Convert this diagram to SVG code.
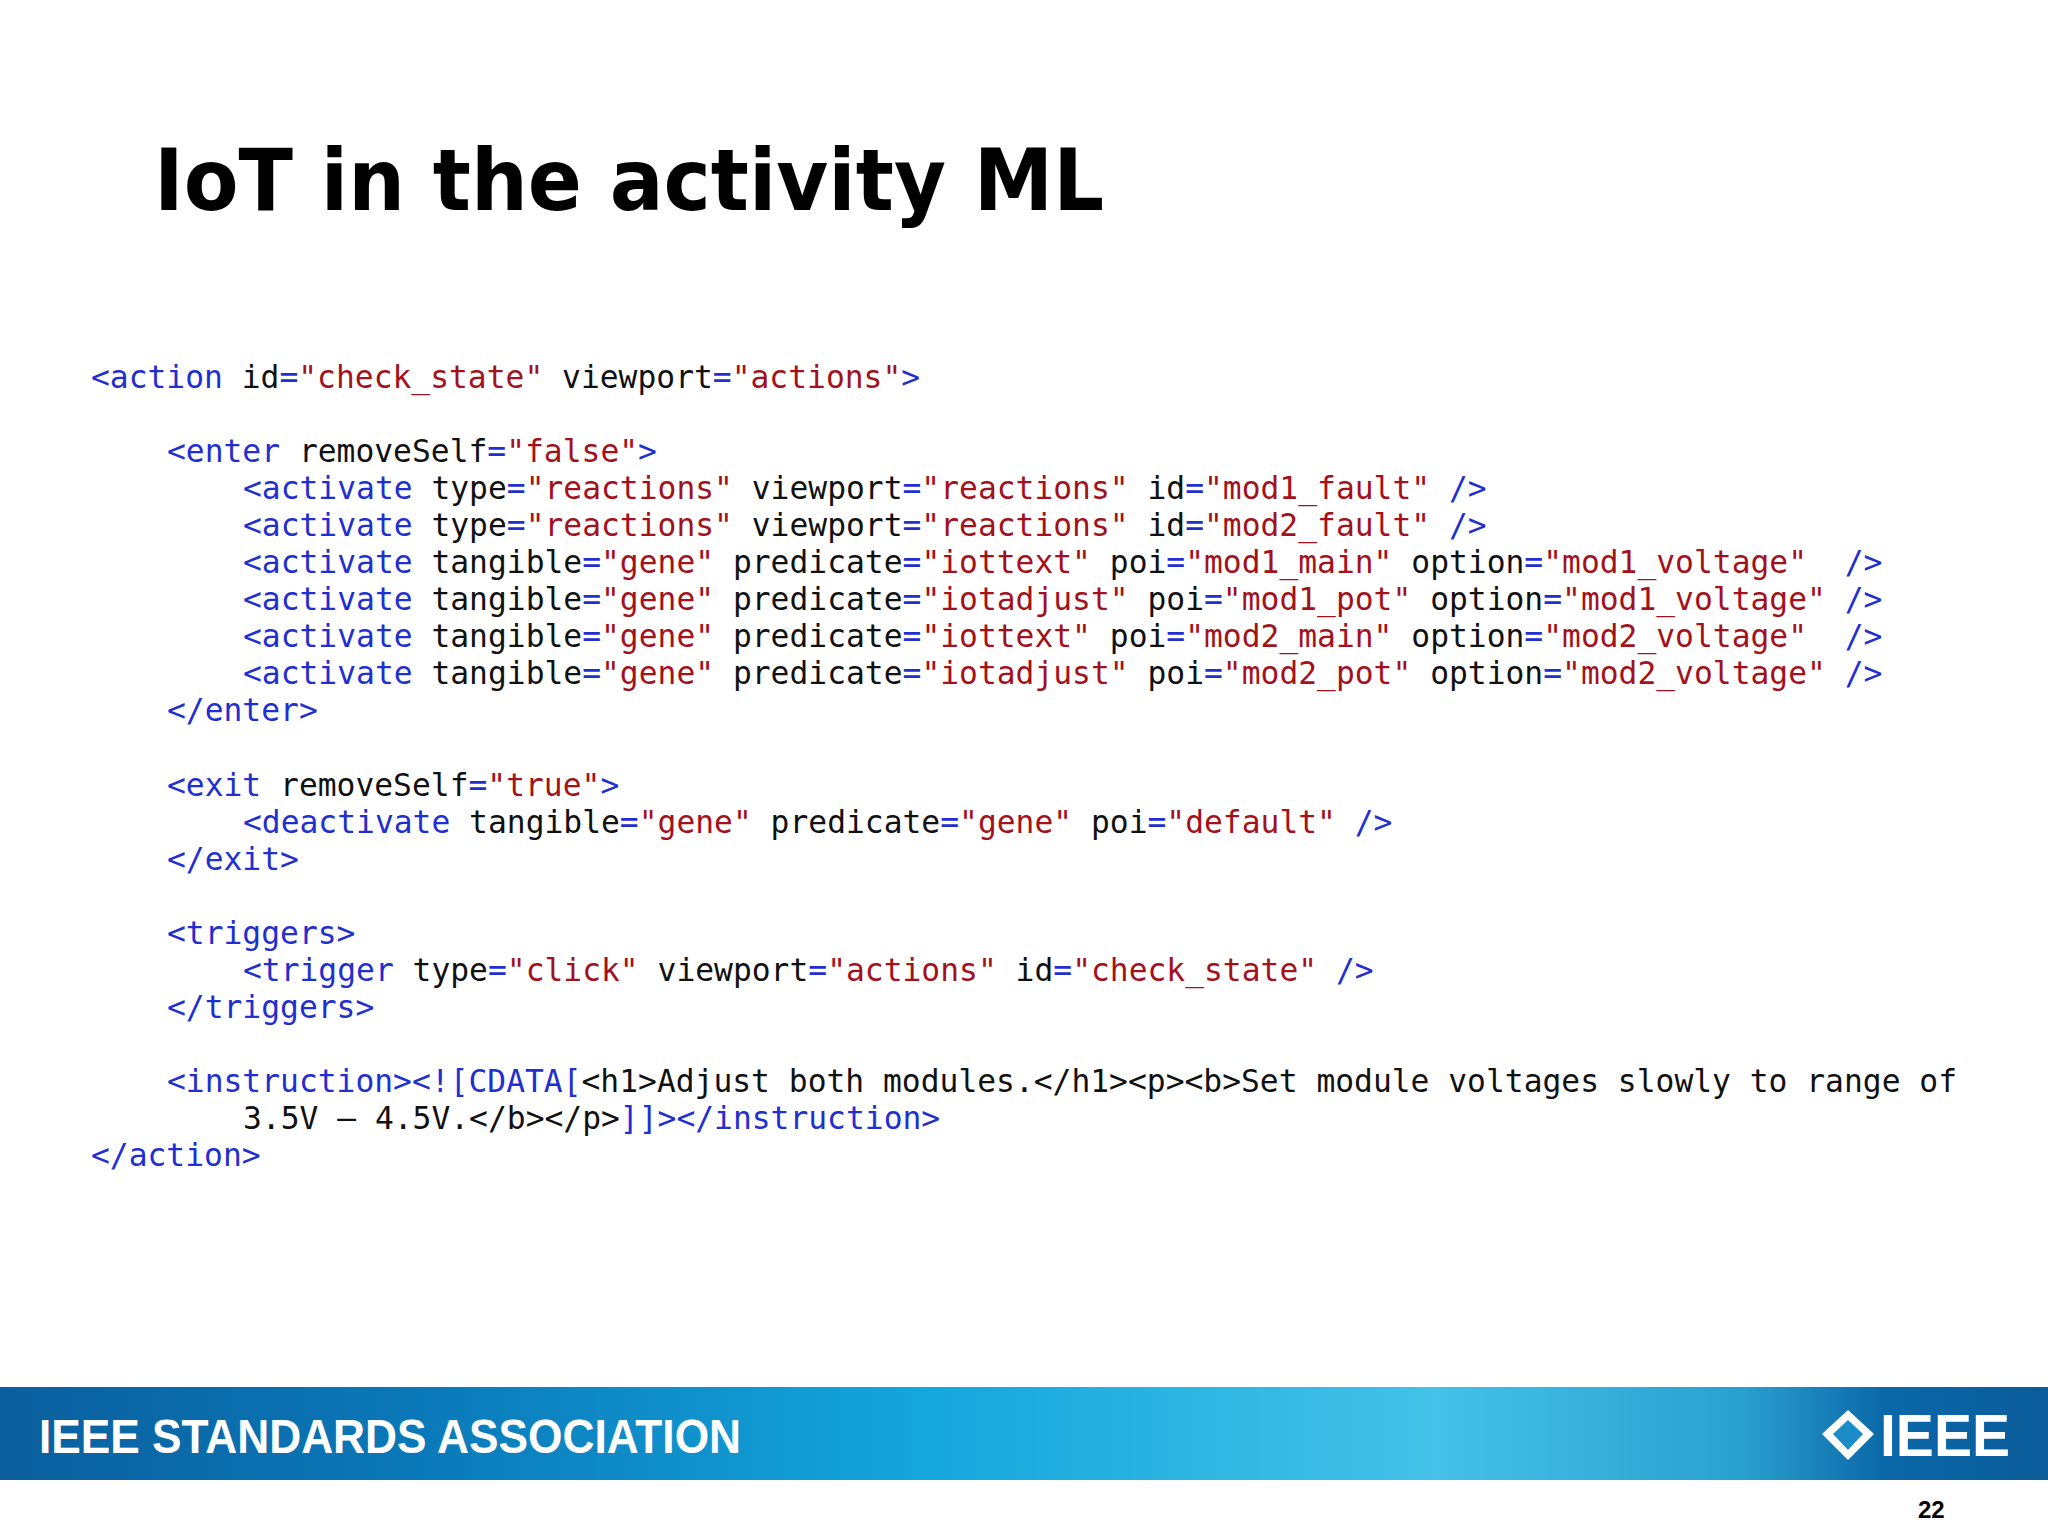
<svg xmlns="http://www.w3.org/2000/svg" width="2048" height="1536" viewBox="0 0 2048 1536">
<defs>
<linearGradient id="band" x1="0" x2="1" y1="0" y2="0">
<stop offset="0" stop-color="#0b5f9e"/><stop offset="0.2" stop-color="#0a78b8"/><stop offset="0.45" stop-color="#14a6dc"/><stop offset="0.7" stop-color="#44c2e8"/><stop offset="0.85" stop-color="#2aa0d0"/><stop offset="0.92" stop-color="#0b68a8"/><stop offset="1" stop-color="#0a5c9a"/>
</linearGradient>
<style>
.c{font-family:"DejaVu Sans Mono",monospace;font-size:31.3px;white-space:pre;fill:#111}
.b{fill:#1f2fd0}.r{fill:#a3121c}.k{fill:#111}
</style>
</defs>
<rect width="2048" height="1536" fill="#fff"/>
<g id="title"><text x="154" y="210" font-family="DejaVu Sans, sans-serif" font-weight="bold" font-size="86" textLength="950" lengthAdjust="spacingAndGlyphs" fill="#000">IoT in the activity ML</text></g>
<g id="code" class="c">
<text x="91" y="388"><tspan class="b">&lt;action</tspan> id<tspan class="b">=</tspan><tspan class="r">"check_state"</tspan> viewport<tspan class="b">=</tspan><tspan class="r">"actions"</tspan><tspan class="b">&gt;</tspan></text>
<text x="167" y="462"><tspan class="b">&lt;enter</tspan> removeSelf<tspan class="b">=</tspan><tspan class="r">"false"</tspan><tspan class="b">&gt;</tspan></text>
<text x="243" y="499"><tspan class="b">&lt;activate</tspan> type<tspan class="b">=</tspan><tspan class="r">"reactions"</tspan> viewport<tspan class="b">=</tspan><tspan class="r">"reactions"</tspan> id<tspan class="b">=</tspan><tspan class="r">"mod1_fault"</tspan> <tspan class="b">/&gt;</tspan></text>
<text x="243" y="536"><tspan class="b">&lt;activate</tspan> type<tspan class="b">=</tspan><tspan class="r">"reactions"</tspan> viewport<tspan class="b">=</tspan><tspan class="r">"reactions"</tspan> id<tspan class="b">=</tspan><tspan class="r">"mod2_fault"</tspan> <tspan class="b">/&gt;</tspan></text>
<text x="243" y="573"><tspan class="b">&lt;activate</tspan> tangible<tspan class="b">=</tspan><tspan class="r">"gene"</tspan> predicate<tspan class="b">=</tspan><tspan class="r">"iottext"</tspan> poi<tspan class="b">=</tspan><tspan class="r">"mod1_main"</tspan> option<tspan class="b">=</tspan><tspan class="r">"mod1_voltage"</tspan>&#160;&#160;<tspan class="b">/&gt;</tspan></text>
<text x="243" y="610"><tspan class="b">&lt;activate</tspan> tangible<tspan class="b">=</tspan><tspan class="r">"gene"</tspan> predicate<tspan class="b">=</tspan><tspan class="r">"iotadjust"</tspan> poi<tspan class="b">=</tspan><tspan class="r">"mod1_pot"</tspan> option<tspan class="b">=</tspan><tspan class="r">"mod1_voltage"</tspan> <tspan class="b">/&gt;</tspan></text>
<text x="243" y="647"><tspan class="b">&lt;activate</tspan> tangible<tspan class="b">=</tspan><tspan class="r">"gene"</tspan> predicate<tspan class="b">=</tspan><tspan class="r">"iottext"</tspan> poi<tspan class="b">=</tspan><tspan class="r">"mod2_main"</tspan> option<tspan class="b">=</tspan><tspan class="r">"mod2_voltage"</tspan>&#160;&#160;<tspan class="b">/&gt;</tspan></text>
<text x="243" y="684"><tspan class="b">&lt;activate</tspan> tangible<tspan class="b">=</tspan><tspan class="r">"gene"</tspan> predicate<tspan class="b">=</tspan><tspan class="r">"iotadjust"</tspan> poi<tspan class="b">=</tspan><tspan class="r">"mod2_pot"</tspan> option<tspan class="b">=</tspan><tspan class="r">"mod2_voltage"</tspan> <tspan class="b">/&gt;</tspan></text>
<text x="167" y="721" class="b">&lt;/enter&gt;</text>
<text x="167" y="796"><tspan class="b">&lt;exit</tspan> removeSelf<tspan class="b">=</tspan><tspan class="r">"true"</tspan><tspan class="b">&gt;</tspan></text>
<text x="243" y="833"><tspan class="b">&lt;deactivate</tspan> tangible<tspan class="b">=</tspan><tspan class="r">"gene"</tspan> predicate<tspan class="b">=</tspan><tspan class="r">"gene"</tspan> poi<tspan class="b">=</tspan><tspan class="r">"default"</tspan> <tspan class="b">/&gt;</tspan></text>
<text x="167" y="870" class="b">&lt;/exit&gt;</text>
<text x="167" y="944" class="b">&lt;triggers&gt;</text>
<text x="243" y="981"><tspan class="b">&lt;trigger</tspan> type<tspan class="b">=</tspan><tspan class="r">"click"</tspan> viewport<tspan class="b">=</tspan><tspan class="r">"actions"</tspan> id<tspan class="b">=</tspan><tspan class="r">"check_state"</tspan> <tspan class="b">/&gt;</tspan></text>
<text x="167" y="1018" class="b">&lt;/triggers&gt;</text>
<text x="167" y="1092"><tspan class="b">&lt;instruction&gt;&lt;![CDATA[</tspan>&lt;h1&gt;Adjust both modules.&lt;/h1&gt;&lt;p&gt;&lt;b&gt;Set module voltages slowly to range of</text>
<text x="243" y="1129">3.5V – 4.5V.&lt;/b&gt;&lt;/p&gt;<tspan class="b">]]&gt;&lt;/instruction&gt;</tspan></text>
<text x="91" y="1166" class="b">&lt;/action&gt;</text>
</g>
<g id="footer">
<rect x="0" y="1387" width="2048" height="93" fill="url(#band)"/>
<text x="39" y="1453" font-family="Liberation Sans, sans-serif" font-weight="bold" font-size="48" textLength="702" lengthAdjust="spacingAndGlyphs" fill="#fff">IEEE STANDARDS ASSOCIATION</text>
<path d="M1848 1410 L1874 1434 L1848 1460 L1822 1434 Z" fill="#fff"/>
<path d="M1848 1420 L1863 1434 L1848 1450 L1833 1434 Z" fill="#1a8cc8"/>
<text x="1880" y="1456" font-family="Liberation Sans, sans-serif" font-weight="bold" font-size="60" textLength="130" lengthAdjust="spacingAndGlyphs" fill="#fff">IEEE</text>
<text x="1918" y="1518" font-family="Liberation Sans, sans-serif" font-weight="bold" font-size="24" fill="#000">22</text>
</g>
</svg>
